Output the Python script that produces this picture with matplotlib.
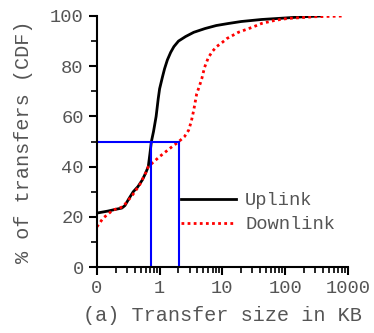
import matplotlib
matplotlib.use('Agg')
import matplotlib.pyplot as plt
from matplotlib.ticker import FixedLocator, LogLocator, NullFormatter, MultipleLocator

# uplink CDF (KB, %)
up_kb = [0.1, 0.15, 0.2, 0.25, 0.28, 0.32, 0.38, 0.45, 0.53, 0.6, 0.66, 0.7,
         0.74, 0.8, 0.88, 0.95, 1.0, 1.11, 1.2, 1.33, 1.5, 1.69, 2.0, 2.59,
         3.5, 5.3, 8, 12.4, 20, 42, 100, 200, 370]
up_pct = [21.5, 22.3, 23, 23.5, 24.5, 27, 30, 32, 34.7, 37.5, 40, 45,
          50, 54, 60, 67, 71, 75.7, 79, 82.5, 85.5, 87.8, 90, 91.8,
          93.5, 95, 96.2, 97, 97.8, 98.6, 99.2, 99.7, 100]

# downlink CDF (KB, %)
down_kb = [0.1, 0.126, 0.18, 0.26, 0.37, 0.48, 0.6, 0.66, 1.0, 1.5, 2.03, 2.5,
           2.9, 3.2, 3.5, 3.9, 4.3, 4.7, 5.2, 6.0, 7, 8.1, 10, 11.8, 18, 30,
           42, 70, 110, 300, 900]
down_pct = [16, 19.5, 22.7, 24, 28.7, 32.7, 37.5, 40, 44, 47.5, 50, 52,
            54.5, 58, 62.5, 69, 72, 75, 79.5, 83.5, 86, 87.8, 89.5, 91, 93.5, 95.5,
            97, 98.3, 99, 99.7, 100]

# medians marked in blue
median_kb = [0.72, 2.03]
median_pct = 50

xticks = [0.1, 1, 10, 100, 1000]
xlabels = ['0', '1', '10', '100', '1000']

txt = '#555555'
font = 'Liberation Mono'

fig = plt.figure(figsize=(3.74, 3.33), dpi=100)
ax = fig.add_axes([0.259, 0.198, 0.671, 0.754])

ax.plot(up_kb, up_pct, color='black', lw=2, label='Uplink')
ax.plot(down_kb, down_pct, color='red', lw=2, linestyle=(0, (1, 1.2)), label='Downlink')

# median guides
ax.plot([0.1, median_kb[1]], [median_pct, median_pct], color='blue', lw=1.5)
for m in median_kb:
    ax.plot([m, m], [0, median_pct], color='blue', lw=1.5)

ax.set_xscale('log')
ax.set_xlim(0.1, 1000)
ax.set_ylim(0, 100)
ax.xaxis.set_major_locator(FixedLocator(xticks))
ax.set_xticklabels(xlabels)
ax.xaxis.set_minor_locator(LogLocator(base=10, subs=range(2, 10)))
ax.xaxis.set_minor_formatter(NullFormatter())
ax.yaxis.set_major_locator(MultipleLocator(20))
ax.yaxis.set_minor_locator(MultipleLocator(10))

for s in ['top', 'right']:
    ax.spines[s].set_visible(False)
for s in ['left', 'bottom']:
    ax.spines[s].set_linewidth(1.5)

ax.tick_params(which='major', length=6, width=1.5, colors='black', labelcolor=txt, labelsize=13.5)
ax.tick_params(which='minor', length=4, width=1.2, colors='black')
for lab in ax.get_xticklabels() + ax.get_yticklabels():
    lab.set_family(font)

ax.set_xlabel('(a) Transfer size in KB', family=font, fontsize=14.5, color=txt, labelpad=6)
ax.set_ylabel('% of transfers (CDF)', family=font, fontsize=14.5, color=txt)
ax.yaxis.set_label_coords(-0.255, 0.5)

leg = ax.legend(loc='upper left', bbox_to_anchor=(0.27, 0.365), frameon=False,
                handlelength=2.9, handletextpad=0.5, labelspacing=0.35,
                prop={'family': font, 'size': 13.5})
for t in leg.get_texts():
    t.set_color(txt)

fig.savefig('out.png', dpi=100)
